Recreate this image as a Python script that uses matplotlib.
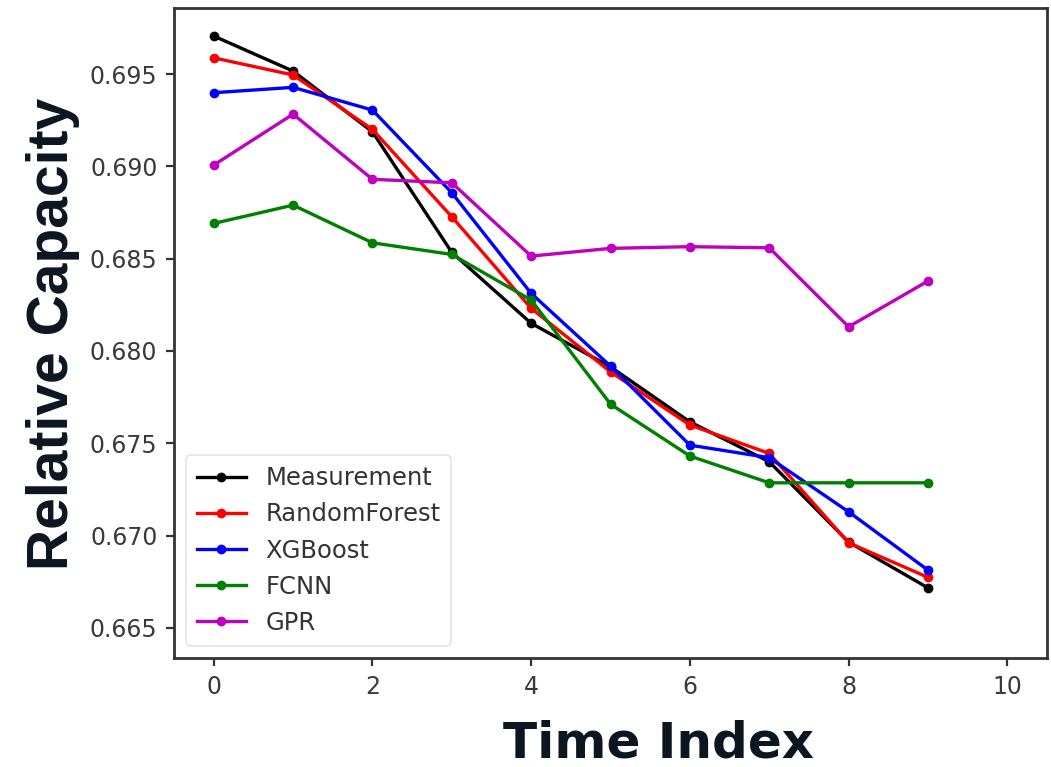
import matplotlib
matplotlib.use("Agg")
import matplotlib.pyplot as plt

# Time steps and capacity predictions
time_index = [0, 1, 2, 3, 4, 5, 6, 7, 8, 9]
measurement = [0.69706, 0.69516, 0.69187, 0.68534, 0.68150, 0.67914, 0.67616, 0.67400, 0.66965, 0.66717]
random_forest = [0.69588, 0.69495, 0.69200, 0.68727, 0.68231, 0.67887, 0.67599, 0.67445, 0.66961, 0.66774]
xgboost = [0.69399, 0.69428, 0.69305, 0.68857, 0.68312, 0.67918, 0.67490, 0.67422, 0.67129, 0.66813]
fcnn = [0.68691, 0.68790, 0.68586, 0.68523, 0.68276, 0.67712, 0.67431, 0.67286, 0.67286, 0.67286]
gpr = [0.69007, 0.69283, 0.68930, 0.68911, 0.68514, 0.68556, 0.68565, 0.68559, 0.68131, 0.68379]

series = [
    ("Measurement", measurement, "k"),
    ("RandomForest", random_forest, "r"),
    ("XGBoost", xgboost, "b"),
    ("FCNN", fcnn, "g"),
    ("GPR", gpr, "m"),
]

x_ticks = [0, 2, 4, 6, 8, 10]
y_ticks = [0.665, 0.670, 0.675, 0.680, 0.685, 0.690, 0.695]

fig = plt.figure(figsize=(10.51, 7.67), dpi=100)
ax = fig.add_axes([0.1656, 0.1421, 0.8306, 0.8475])

for name, vals, col in series:
    ax.plot(time_index, vals, color=col, marker=".", markersize=12,
            linewidth=2.4, label=name)

ax.set_xlim(-0.5, 10.5)
ax.set_ylim(0.66337, 0.69858)
ax.set_xticks(x_ticks)
ax.set_yticks(y_ticks)
ax.set_yticklabels([f"{v:.3f}" for v in y_ticks])

for sp in ax.spines.values():
    sp.set_linewidth(2.0)
    sp.set_color("#333333")
ax.tick_params(axis="both", labelsize=17, length=6, width=1.6,
               colors="#333333", labelcolor="#3a3a3a", pad=6)

leg = ax.legend(loc="lower left", fontsize=17.5, frameon=True,
                borderpad=0.45)
leg.get_frame().set_edgecolor("#dddddd")
leg.get_frame().set_linewidth(1.2)
for t in leg.get_texts():
    t.set_color("#333333")

fig.text(0.627, 0.012, "Time Index", fontsize=36, fontweight="bold",
         family="DejaVu Sans", color="#0b1620", ha="center", va="baseline")
fig.text(0.050, 0.565, "Relative Capacity", fontsize=41, fontweight="bold",
         family="Liberation Sans", color="#0b1620", ha="center", va="center",
         rotation=90)

fig.savefig("out.png", dpi=100)
